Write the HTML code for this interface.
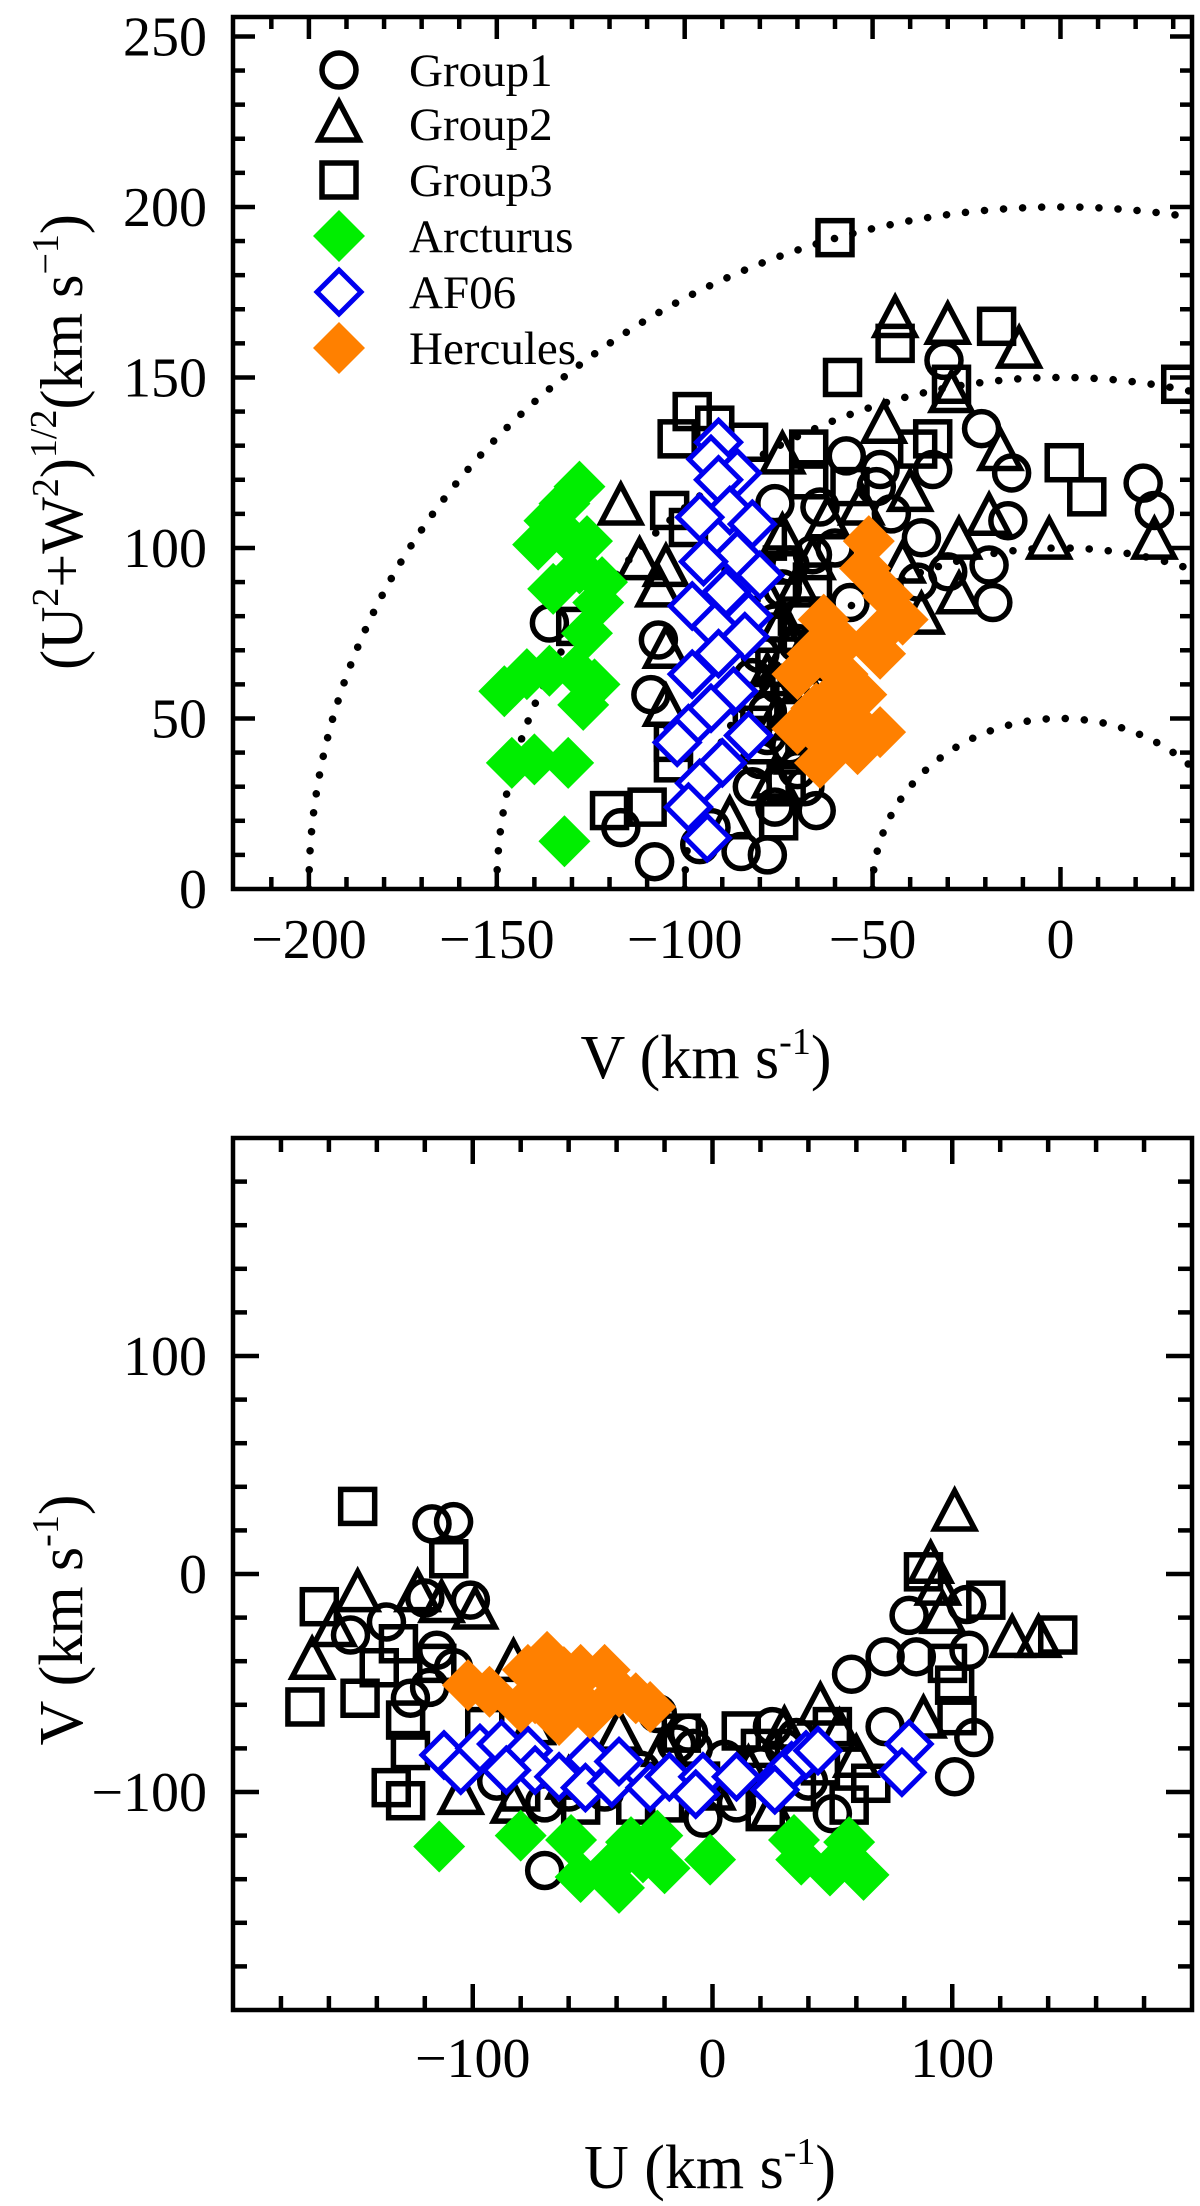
<!DOCTYPE html>
<html><head><meta charset="utf-8"><style>
html,body{margin:0;padding:0;background:#fff;}
svg{display:block;font-family:"Liberation Serif",serif;}
</style></head><body>
<svg id="fig" width="1200" height="2206" viewBox="0 0 1200 2206" xmlns="http://www.w3.org/2000/svg">
<defs>
<clipPath id="clipTop"><rect x="233" y="17" width="959" height="872"/></clipPath>
<clipPath id="clipBot"><rect x="233" y="1138" width="959" height="872"/></clipPath>
</defs>
<g id="top"></g>
<g id="bot"></g>
</svg>
<script>
// ---------- TOP PANEL DATA: [V, sqrt(U^2+W^2)] ----------
const topGroup1 = [[-136,78],[-107,73],[-109,57],[-76,113],[-57,127],[-48,123],[-49,118],[-34,123],[-31,155],[-21,135],[-13,122],[-14,108],[-19,95],[-18,84],[-30,93],[-37,103],[-38,90],[22,119],[25,111],[-117,18],[-108,8],[-96,13],[-85,11],[-78,10],[-65,23],[-76,24],[-56,84],[-80,69],[-65,57],[-64,112],[-93,18],[-78,45],[-72,95],[-68,80],[-75,60],[-70,35],[-82,30],[-60,100],[-45,110],[-74,88],[-70,72],[-78,52],[-72,42],[-80,38],[-66,98],[-76,78],[-82,62],[-68,30]];
const topGroup2 = [[-117,112],[-112,96],[-105,94],[-107,88],[-105,70],[-105,53],[-74,127],[-44,167],[-30,165],[-11,158],[-29,145],[-47,136],[-40,116],[-16,128],[-19,109],[-3,102],[25,102],[-27,86],[-37,80],[-74,103],[-66,96],[-70,39],[-76,49],[-88,20],[-27,102],[-53,112],[-72,70],[-68,60],[-78,85],[-62,108],[-42,95],[-74,78],[-70,88],[-78,62],[-72,52],[-80,42],[-66,74],[-76,32]];
const topGroup3 = [[-60,191],[-44,160],[-17,165],[-58,150],[-29,148],[32,148],[-98,140],[-102,132],[-92,136],[-83,131],[-67,129],[-67,120],[-56,118],[-38,129],[-34,132],[1,125],[7,115],[-104,111],[-99,106],[-78,102],[-129,77],[-103,37],[-103,43],[-120,23],[-110,24],[-75,20],[-73,31],[-85,90],[-70,80],[-62,73],[-76,65],[-70,50],[-80,55],[-66,90],[-74,95],[-72,60],[-78,75],[-68,45],[-82,48]];
const topArcturus = [[-128,118],[-132,113],[-136,108],[-139,101],[-131,103],[-126,102],[-128,94],[-122,90],[-135,88],[-123,84],[-126,75],[-148,58],[-142,63],[-136,64],[-129,64],[-124,60],[-127,54],[-140,38],[-146,37],[-131,37],[-132,14]];
const topAF06 = [[-91,131],[-93,126],[-86,122],[-91,120],[-88,111],[-96,109],[-82,107],[-86,98],[-95,96],[-80,92],[-89,87],[-98,83],[-83,80],[-92,77],[-84,74],[-91,69],[-98,63],[-87,58],[-93,53],[-99,47],[-83,45],[-102,43],[-90,37],[-96,31],[-99,24],[-94,15]];
const topHercules = [[-51,102],[-52,94],[-46,86],[-63,79],[-42,79],[-48,75],[-66,69],[-48,69],[-70,63],[-58,63],[-53,57],[-62,55],[-70,47],[-48,46],[-62,43],[-54,41],[-64,37],[-56,50],[-65,53],[-58,72],[-60,47]];
const topCircleRadii = [50,100,150,200];
const topXTicks = [-200,-150,-100,-50,0];
const topYTicks = [0,50,100,150,200,250];

// ---------- BOTTOM PANEL DATA: [U, V] ----------
const botGroup1 = [[-117,23],[-108,24],[-151,-28],[-136,-22],[-120,-11],[-101,-12],[-115,-35],[-108,-43],[-118,-52],[-126,-57],[-70,-136],[-23,-64],[-10,-73],[25,-70],[58,-46],[82,-19],[72,-38],[72,-70],[101,-93],[109,-75],[107,-35],[106,-14],[50,-110],[-4,-112],[85,-38],[-8,-80],[35,-75],[-60,-100],[10,-105],[-70,-105],[-30,-90],[-15,-78],[20,-88],[40,-95],[-45,-100],[5,-85],[-90,-95],[30,-80]];
const botGroup2 = [[-167,-40],[-148,-9],[-158,-25],[-123,-9],[-99,-17],[-113,-14],[-83,-41],[101,28],[91,4],[94,-6],[96,-19],[125,-30],[136,-30],[88,-67],[45,-61],[-83,-106],[25,-109],[-39,-73],[-105,-102],[53,-73],[-20,-80],[30,-72],[-60,-95],[0,-100],[15,-90],[-75,-70],[60,-85]];
const botGroup3 = [[-148,31],[-110,7],[-164,-15],[-170,-61],[-147,-57],[-139,-43],[-131,-32],[-128,-67],[-126,-81],[-134,-98],[-128,-104],[-115,-41],[88,1],[114,-12],[144,-28],[101,-51],[102,-65],[57,-106],[66,-96],[50,-70],[12,-72],[-13,-73],[-32,-106],[22,-109],[-55,-106],[98,-41],[-5,-95],[20,-80],[-80,-100],[-20,-105],[35,-100],[-95,-70],[45,-88]];
const botArcturus = [[-114,-125],[-80,-120],[-59,-122],[-55,-139],[-39,-144],[-34,-123],[-23,-120],[-20,-135],[-1,-131],[34,-122],[37,-131],[49,-136],[57,-123],[63,-138],[-43,-135],[-29,-130]];
const botAF06 = [[-112,-83],[-105,-90],[-97,-80],[-88,-78],[-77,-81],[-74,-90],[-64,-93],[-51,-85],[-53,-98],[-42,-96],[-39,-86],[-26,-98],[-18,-93],[-4,-93],[-7,-101],[10,-93],[28,-94],[33,-88],[39,-83],[44,-81],[82,-78],[79,-91],[26,-99],[-86,-90]];
const botHercules = [[-102,-51],[-93,-54],[-77,-44],[-69,-38],[-74,-57],[-59,-51],[-55,-44],[-45,-44],[-39,-54],[-32,-57],[-26,-61],[-64,-67],[-51,-64],[-80,-61],[-55,-59],[-70,-50],[-62,-45]];
const botXTicks = [-100,0,100];
const botYTicks = [-100,0,100];

const NS = "http://www.w3.org/2000/svg";
function mk(tag, attrs, parent){ const e=document.createElementNS(NS,tag); for(const k in attrs) e.setAttribute(k,attrs[k]); parent.appendChild(e); return e; }

const topX = v => 233 + (v - (-220.2)) * (959/255.2);
const topY = v => 889 - v * (872/255.7);
const botX = v => 233 + (v + 200) * (959/400);
const botY = v => 2010 - (v + 200) * (872/400);

function marker(g, kind, cx, cy, name){
  let e;
  if(kind==='circle'){ e=mk('circle',{cx:cx,cy:cy,r:17,fill:'none',stroke:'#000','stroke-width':5.5},g); }
  else if(kind==='tri'){ const s=20; e=mk('polygon',{points:`${cx},${cy-s*1.1} ${cx-s},${cy+s*0.8} ${cx+s},${cy+s*0.8}`,fill:'none',stroke:'#000','stroke-width':5.5,'stroke-linejoin':'miter'},g); }
  else if(kind==='sq'){ e=mk('rect',{x:cx-17,y:cy-17,width:34,height:34,fill:'none',stroke:'#000','stroke-width':5.5},g); }
  else if(kind==='green'){ const s=26; e=mk('polygon',{points:`${cx},${cy-s} ${cx+s},${cy} ${cx},${cy+s} ${cx-s},${cy}`,fill:'#00ee00'},g); }
  else if(kind==='orange'){ const s=26; e=mk('polygon',{points:`${cx},${cy-s} ${cx+s},${cy} ${cx},${cy+s} ${cx-s},${cy}`,fill:'#ff8000'},g); }
  else if(kind==='blue'){ const s=22; e=mk('polygon',{points:`${cx},${cy-s} ${cx+s},${cy} ${cx},${cy+s} ${cx-s},${cy}`,fill:'#fff',stroke:'#0000ee','stroke-width':5},g); }
  
  
  return e;
}

function frame(g, x0,y0,x1,y1, name){
  const r=mk('rect',{x:x0,y:y0,width:x1-x0,height:y1-y0,fill:'none',stroke:'#000','stroke-width':4.5},g);
  
  
}
function tick(g,x1,y1,x2,y2){ const l=mk('line',{x1:x1,y1:y1,x2:x2,y2:y2,stroke:'#000','stroke-width':4.5},g);
  
   }
function label(g,x,y,txt,anchor,size,name){ const t=mk('text',{x:x,y:y,'text-anchor':anchor,'font-size':size,fill:'#000'},g); t.textContent=txt;
  
   return t; }

// ===== TOP PANEL =====
(function(){
  const g=document.getElementById('top');
  const L=233,R=1192,T=17,B=889;
  for(let v=-220; v<=30; v+=10){ const x=topX(v); if(x<L+2||x>R-2) continue; const big=(v%50===0); const len=big?22:12;
    tick(g,x,B,x,B-len); tick(g,x,T,x,T+len); }
  for(let v=10; v<=250; v+=10){ const y=topY(v); const big=(v%50===0); const len=big?22:12;
    tick(g,L,y,L+len,y); tick(g,R,y,R-len,y); }
  topXTicks.forEach(v=>label(g,topX(v),958,(v<0?'\u2212':'')+Math.abs(v),'middle',56,'x-tick-label'));
  topYTicks.forEach(v=>label(g,207,topY(v)+19,String(v),'end',56,'y-tick-label'));
  const cg=mk('g',{'clip-path':'url(#clipTop)'},g);
  
  
  topCircleRadii.forEach(r=>{
    let d='';
    for(let i=0;i<=400;i++){ const a=Math.PI*i/400; const v=-r*Math.cos(a), w=r*Math.sin(a); d+=(i?'L':'M')+topX(v).toFixed(1)+','+topY(w).toFixed(1); }
    const p=mk('path',{d:d,fill:'none',stroke:'#000','stroke-width':7.5,'stroke-linecap':'round','stroke-dasharray':'0.1 19'},cg);
    
    
  });
  const mg=mk('g',{'clip-path':'url(#clipTop)'},g);
  
  
  topGroup1.forEach(p=>marker(mg,'circle',topX(p[0]),topY(p[1]),'group1-point'));
  topGroup2.forEach(p=>marker(mg,'tri',topX(p[0]),topY(p[1]),'group2-point'));
  topGroup3.forEach(p=>marker(mg,'sq',topX(p[0]),topY(p[1]),'group3-point'));
  topArcturus.forEach(p=>marker(mg,'green',topX(p[0]),topY(p[1]),'arcturus-point'));
  topAF06.forEach(p=>marker(mg,'blue',topX(p[0]),topY(p[1]),'af06-point'));
  topHercules.forEach(p=>marker(mg,'orange',topX(p[0]),topY(p[1]),'hercules-point'));
  frame(g,L,T,R,B,'top-plot-frame');
  const lg=mk('g',{},g);
  
  
  const items=[['circle','Group1'],['tri','Group2'],['sq','Group3'],['green','Arcturus'],['blue','AF06'],['orange','Hercules']];
  const ys=[70,124,180,236,292,348];
  items.forEach((it,i)=>{ marker(lg,it[0],339,ys[i],'legend-symbol-'+it[1].toLowerCase());
    label(lg,409,ys[i]+16,it[1],'start',47,'legend-label-'+it[1].toLowerCase()); });
  const xt=mk('text',{x:706,y:1078,'text-anchor':'middle','font-size':62},g);
  xt.innerHTML='V (km s<tspan dy="-24" font-size="38">-1</tspan><tspan dy="24">)</tspan>';
  
  
  const yt=mk('text',{x:0,y:0,'text-anchor':'middle','font-size':60,transform:'translate(82,442) rotate(-90)'},g);
  yt.innerHTML='(U<tspan dy="-24" font-size="38">2</tspan><tspan dy="24">+W</tspan><tspan dy="-24" font-size="38">2</tspan><tspan dy="24">)</tspan><tspan dy="-26" font-size="38">1/2</tspan><tspan dy="26">(km s</tspan><tspan dy="-24" font-size="38">\u22121</tspan><tspan dy="24">)</tspan>';
  
  
})();

// ===== BOTTOM PANEL =====
(function(){
  const g=document.getElementById('bot');
  const L=233,R=1192,T=1138,B=2010;
  for(let v=-180; v<=180; v+=20){ const x=botX(v); const big=(v%100===0); const len=big?26:14;
    tick(g,x,B,x,B-len); tick(g,x,T,x,T+len); }
  for(let v=-180; v<=180; v+=20){ const y=botY(v); const big=(v%100===0); const len=big?26:14;
    tick(g,L,y,L+len,y); tick(g,R,y,R-len,y); }
  botXTicks.forEach(v=>label(g,botX(v),2077,(v<0?'\u2212':'')+Math.abs(v),'middle',56,'x-tick-label'));
  botYTicks.forEach(v=>label(g,207,botY(v)+19,(v<0?'\u2212':'')+Math.abs(v),'end',56,'y-tick-label'));
  const mg=mk('g',{'clip-path':'url(#clipBot)'},g);
  
  
  botGroup1.forEach(p=>marker(mg,'circle',botX(p[0]),botY(p[1]),'group1-point'));
  botGroup2.forEach(p=>marker(mg,'tri',botX(p[0]),botY(p[1]),'group2-point'));
  botGroup3.forEach(p=>marker(mg,'sq',botX(p[0]),botY(p[1]),'group3-point'));
  botArcturus.forEach(p=>marker(mg,'green',botX(p[0]),botY(p[1]),'arcturus-point'));
  botAF06.forEach(p=>marker(mg,'blue',botX(p[0]),botY(p[1]),'af06-point'));
  botHercules.forEach(p=>marker(mg,'orange',botX(p[0]),botY(p[1]),'hercules-point'));
  frame(g,L,T,R,B,'bottom-plot-frame');
  const xt=mk('text',{x:710,y:2188,'text-anchor':'middle','font-size':62},g);
  xt.innerHTML='U (km s<tspan dy="-24" font-size="38">-1</tspan><tspan dy="24">)</tspan>';
  
  
  const yt=mk('text',{x:0,y:0,'text-anchor':'middle','font-size':62,transform:'translate(82,1620) rotate(-90)'},g);
  yt.innerHTML='V (km s<tspan dy="-24" font-size="38">-1</tspan><tspan dy="24">)</tspan>';
  
  
})();
</script>
</body></html>
